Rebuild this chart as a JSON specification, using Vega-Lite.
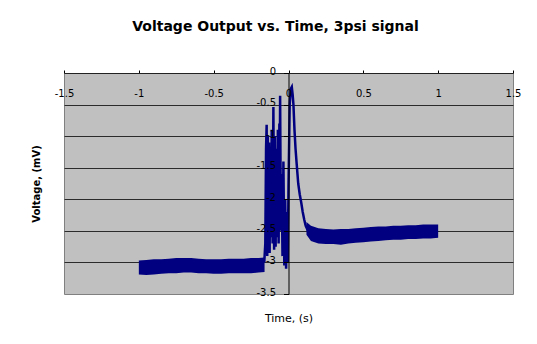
{
  "$schema": "https://vega.github.io/schema/vega-lite/v6.json",
  "autosize": "none",
  "width": 449,
  "height": 221,
  "padding": {"left": 64, "top": 73, "right": 24, "bottom": 50},
  "background": "white",
  "title": {
    "text": "Voltage Output vs. Time, 3psi signal",
    "font": "DejaVu Sans",
    "fontSize": 14,
    "fontWeight": "bold",
    "color": "black",
    "anchor": "middle",
    "dx": -13,
    "offset": 32
  },
  "datasets": {
    "before": [
      {"t": -1.0, "lo": -3.19, "hi": -2.97},
      {"t": -0.95, "lo": -3.2, "hi": -2.96},
      {"t": -0.9, "lo": -3.19, "hi": -2.95},
      {"t": -0.85, "lo": -3.18, "hi": -2.95},
      {"t": -0.8, "lo": -3.17, "hi": -2.94},
      {"t": -0.75, "lo": -3.17, "hi": -2.93},
      {"t": -0.7, "lo": -3.16, "hi": -2.93},
      {"t": -0.65, "lo": -3.16, "hi": -2.93},
      {"t": -0.6, "lo": -3.17, "hi": -2.94},
      {"t": -0.55, "lo": -3.17, "hi": -2.95},
      {"t": -0.5, "lo": -3.18, "hi": -2.95},
      {"t": -0.45, "lo": -3.18, "hi": -2.95},
      {"t": -0.4, "lo": -3.17, "hi": -2.94},
      {"t": -0.35, "lo": -3.17, "hi": -2.94},
      {"t": -0.3, "lo": -3.17, "hi": -2.94},
      {"t": -0.25, "lo": -3.17, "hi": -2.93},
      {"t": -0.2, "lo": -3.16, "hi": -2.93},
      {"t": -0.16, "lo": -3.15, "hi": -2.92}
    ],
    "after": [
      {"t": 0.12, "lo": -2.56, "hi": -2.36},
      {"t": 0.15, "lo": -2.66, "hi": -2.42},
      {"t": 0.2, "lo": -2.7, "hi": -2.46},
      {"t": 0.25, "lo": -2.71, "hi": -2.47},
      {"t": 0.3, "lo": -2.71, "hi": -2.48},
      {"t": 0.35, "lo": -2.72, "hi": -2.47},
      {"t": 0.4, "lo": -2.7, "hi": -2.47},
      {"t": 0.45, "lo": -2.69, "hi": -2.46},
      {"t": 0.5, "lo": -2.68, "hi": -2.45},
      {"t": 0.55, "lo": -2.67, "hi": -2.44},
      {"t": 0.6, "lo": -2.66, "hi": -2.43},
      {"t": 0.65, "lo": -2.65, "hi": -2.43},
      {"t": 0.7, "lo": -2.64, "hi": -2.42},
      {"t": 0.75, "lo": -2.64, "hi": -2.42},
      {"t": 0.8, "lo": -2.63, "hi": -2.41},
      {"t": 0.85, "lo": -2.63, "hi": -2.41},
      {"t": 0.9, "lo": -2.62, "hi": -2.4},
      {"t": 0.95, "lo": -2.62, "hi": -2.4},
      {"t": 1.0, "lo": -2.61, "hi": -2.4}
    ],
    "transient": [
      {"t": -0.162, "v": -3.0},
      {"t": -0.155, "v": -2.7},
      {"t": -0.15, "v": -1.2},
      {"t": -0.146, "v": -0.82},
      {"t": -0.142, "v": -2.9},
      {"t": -0.138, "v": -1.0},
      {"t": -0.134, "v": -2.8},
      {"t": -0.13, "v": -1.1},
      {"t": -0.126, "v": -2.85},
      {"t": -0.122, "v": -1.3},
      {"t": -0.118, "v": -2.6},
      {"t": -0.112, "v": -0.9},
      {"t": -0.106, "v": -2.7},
      {"t": -0.101, "v": -0.54},
      {"t": -0.096, "v": -2.8},
      {"t": -0.091, "v": -1.0},
      {"t": -0.086, "v": -2.75},
      {"t": -0.081, "v": -1.2},
      {"t": -0.076, "v": -2.6},
      {"t": -0.071, "v": -0.9},
      {"t": -0.066, "v": -2.7},
      {"t": -0.061, "v": -0.8},
      {"t": -0.058, "v": -1.5},
      {"t": -0.056, "v": -0.36},
      {"t": -0.051, "v": -2.5},
      {"t": -0.046, "v": -1.6},
      {"t": -0.04, "v": -2.9},
      {"t": -0.034, "v": -1.4},
      {"t": -0.028, "v": -3.05},
      {"t": -0.022, "v": -2.0},
      {"t": -0.016, "v": -3.1},
      {"t": -0.01, "v": -2.2},
      {"t": -0.005, "v": -3.0},
      {"t": 0.0, "v": -1.8},
      {"t": 0.008, "v": -0.5},
      {"t": 0.015, "v": -0.25},
      {"t": 0.022, "v": -0.22},
      {"t": 0.028, "v": -0.35},
      {"t": 0.033, "v": -0.5},
      {"t": 0.04, "v": -0.9},
      {"t": 0.047, "v": -1.2},
      {"t": 0.055, "v": -1.45},
      {"t": 0.065, "v": -1.75},
      {"t": 0.075, "v": -1.92},
      {"t": 0.085, "v": -2.05},
      {"t": 0.095, "v": -2.2},
      {"t": 0.105, "v": -2.32},
      {"t": 0.115, "v": -2.42},
      {"t": 0.13, "v": -2.5}
    ]
  },
  "config": {
    "view": {"stroke": "#808080", "strokeWidth": 1, "fill": "#C0C0C0"},
    "axis": {
      "labelFont": "DejaVu Sans",
      "labelFontSize": 10,
      "labelColor": "black",
      "titleFont": "DejaVu Sans",
      "titleColor": "black",
      "domainColor": "black",
      "tickColor": "black"
    }
  },
  "resolve": {"axis": {"x": "independent", "y": "independent"}},
  "layer": [
    {
      "data": {"name": "before"},
      "mark": {"type": "area", "color": "#000080", "opacity": 1},
      "encoding": {
        "x": {
          "field": "t", "type": "quantitative",
          "scale": {"domain": [-1.5, 1.5], "nice": false, "zero": false},
          "axis": {
            "orient": "bottom", "offset": -221, "title": null, "grid": false,
            "values": [-1.5, -1, -0.5, 0, 0.5, 1, 1.5],
            "labelExpr": "toString(datum.value)",
            "labelFlush": false, "labelOverlap": false,
            "tickSize": -3, "labelPadding": 18, "domainColor": "#222222",
            "zindex": 1
          }
        },
        "y": {
          "field": "lo", "type": "quantitative",
          "scale": {"domain": [-3.5, 0], "nice": false, "zero": false},
          "axis": {
            "orient": "left", "offset": -224.5, "title": null, "grid": false,
            "values": [-3.5, -3, -2.5, -2, -1.5, -1, -0.5, 0],
            "labelExpr": "toString(datum.value)",
            "labelOverlap": false, "labelFlush": false,
            "tickSize": 5, "labelPadding": 8, "labelOffset": -2,
            "zindex": 1
          }
        },
        "y2": {"field": "hi"}
      }
    },
    {
      "data": {"name": "after"},
      "mark": {"type": "area", "color": "#000080", "opacity": 1},
      "encoding": {
        "x": {
          "field": "t", "type": "quantitative",
          "axis": {
            "orient": "bottom", "title": "Time, (s)", "labels": false, "ticks": false,
            "domain": false, "grid": false, "titleFontSize": 11, "titleFontWeight": "normal",
            "titlePadding": 18
          }
        },
        "y": {
          "field": "lo", "type": "quantitative",
          "axis": {
            "orient": "left", "title": "Voltage, (mV)", "labels": false, "ticks": false,
            "domain": false, "grid": true, "gridColor": "#2b2b2b", "gridWidth": 1,
            "gridOpacity": 1,
            "values": [-3, -2.5, -2, -1.5, -1, -0.5],
            "titleFontSize": 10, "titleFontWeight": "bold", "titlePadding": 23
          }
        },
        "y2": {"field": "hi"}
      }
    },
    {
      "data": {"name": "transient"},
      "mark": {"type": "line", "color": "#000080", "strokeWidth": 2.5},
      "encoding": {
        "x": {"field": "t", "type": "quantitative", "axis": null},
        "y": {"field": "v", "type": "quantitative", "axis": null}
      }
    }
  ]
}
